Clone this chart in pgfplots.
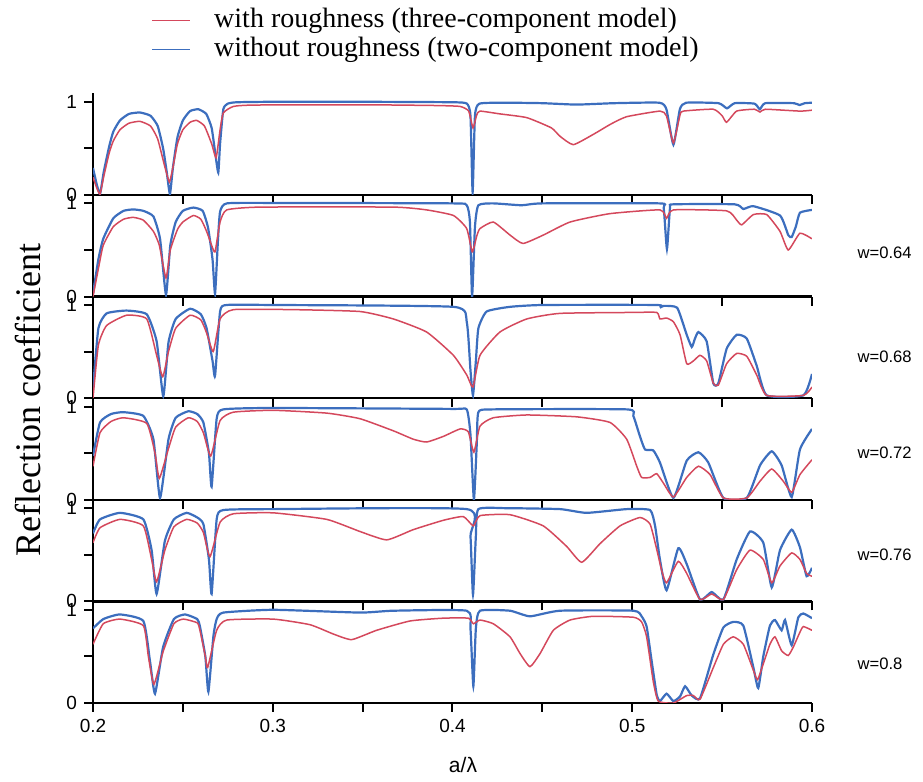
\documentclass[border=0pt]{standalone}
\usepackage{fontspec}
\setmainfont{Liberation Serif}
\setsansfont{Liberation Sans}
\usepackage{pgfplots}
\pgfplotsset{compat=1.18}
\definecolor{cblue}{RGB}{60,110,190}
\definecolor{cred}{RGB}{212,72,92}
\tikzset{wlab/.style={anchor=west, inner sep=0pt, font=\fontsize{8.3}{10}\selectfont\sffamily}}
\pgfplotsset{
 panel/.style={
  width=359.5pt, height=50.8pt, scale only axis,
  xmin=0.2, xmax=0.6, ymin=0, ymax=1.09,
  axis lines*=left, axis line style={line width=1.2pt, black},
  tick align=outside, major tick length=4.5pt, minor tick length=4.5pt,
  xtick={0.2,0.3,0.4,0.5,0.6}, minor xtick={0.25,0.35,0.45,0.55},
  xticklabels={}, ytick={0,0.5,1}, yticklabels={0,,1},
  tick style={line width=1pt, black},
  tick label style={font=\fontsize{9.5}{11}\selectfont\sffamily},
  clip mode=individual,
  anchor=south west,
 },
 bl/.style={cblue, line width=1.1pt, smooth, tension=0.3},
 rd/.style={cred, line width=0.75pt, smooth, tension=0.3},
}
\begin{document}
\begin{tikzpicture}
\useasboundingbox (0,0) rectangle (461.5pt,391pt);
% ---------- panel 1
\begin{axis}[panel, at={(46.5pt,293.5pt)},
  legend style={at={(axis description cs:0.0807,1.85)}, anchor=north west,
    draw=none, fill=none, inner sep=0pt, row sep=1.5pt,
    nodes={text height=10pt, text depth=3pt, inner sep=0pt},
    font=\fontsize{14}{16}\selectfont,
    /tikz/every odd column/.append style={column sep=11.5pt}},
  legend cell align=left,
  legend image code/.code={\draw[#1] (0pt,0pt) -- (19pt,0pt);}]
\addlegendimage{cred, line width=0.6pt}
\addlegendentry{with roughness (three-component model)}
\addlegendimage{cblue, line width=0.9pt}
\addlegendentry{without roughness (two-component model)}
\addplot[bl, forget plot] coordinates {(0.200,0.29)(0.2020,0.12)(0.2039,0.01)(0.2060,0.25)(0.2090,0.52)(0.2113,0.68)(0.2150,0.80)(0.2200,0.87)(0.2261,0.885)(0.2320,0.85)(0.2360,0.74)(0.2390,0.50)(0.2410,0.25)(0.2428,0.01)(0.2445,0.30)(0.2470,0.62)(0.2500,0.80)(0.2540,0.90)(0.2586,0.92)(0.2630,0.87)(0.2660,0.72)(0.2680,0.45)(0.2697,0.24)(0.2707,0.55)(0.2725,0.92)(0.2750,0.98)(0.2800,0.995)(0.3000,1.0)(0.3500,1.0)(0.4000,0.995)(0.4080,0.98)(0.4100,0.85)(0.4112,0.03)(0.4125,0.85)(0.4150,0.98)(0.4300,0.99)(0.4500,0.985)(0.4690,0.97)(0.4900,0.985)(0.5150,0.99)(0.5190,0.92)(0.5229,0.54)(0.5265,0.92)(0.5300,0.99)(0.5480,0.985)(0.5527,0.93)(0.5570,0.985)(0.5680,0.98)(0.5710,0.92)(0.5740,0.985)(0.5900,0.985)(0.5930,0.965)(0.5960,0.985)(0.600,0.99)};
\addplot[rd, forget plot] coordinates {(0.200,0.19)(0.2020,0.08)(0.2039,0.01)(0.2060,0.2)(0.2090,0.45)(0.2113,0.58)(0.2150,0.70)(0.2200,0.77)(0.2261,0.79)(0.2320,0.74)(0.2360,0.60)(0.2400,0.30)(0.2425,0.14)(0.2445,0.30)(0.2470,0.55)(0.2500,0.70)(0.2540,0.78)(0.2577,0.80)(0.2620,0.74)(0.2660,0.55)(0.2685,0.40)(0.2707,0.70)(0.2725,0.88)(0.2781,0.95)(0.2900,0.965)(0.3500,0.968)(0.3900,0.96)(0.4042,0.95)(0.4090,0.90)(0.4114,0.72)(0.4135,0.86)(0.4153,0.90)(0.4264,0.87)(0.4413,0.83)(0.4550,0.72)(0.4598,0.63)(0.4672,0.54)(0.4783,0.65)(0.4880,0.76)(0.4969,0.84)(0.5154,0.90)(0.5190,0.85)(0.5229,0.56)(0.5266,0.86)(0.5284,0.90)(0.5451,0.92)(0.5500,0.85)(0.5525,0.78)(0.5581,0.90)(0.5680,0.92)(0.5711,0.89)(0.5740,0.92)(0.5933,0.90)(0.600,0.91)};
\end{axis}
% ---------- panel 2
\begin{axis}[panel, at={(46.5pt,242.7pt)}]
\addplot[bl] coordinates {(0.200,0.03)(0.2030,0.40)(0.2057,0.62)(0.2113,0.84)(0.2170,0.92)(0.2224,0.935)(0.2280,0.92)(0.2336,0.86)(0.2373,0.62)(0.2406,0.02)(0.2430,0.55)(0.2460,0.80)(0.2500,0.92)(0.2558,0.955)(0.2610,0.92)(0.2640,0.74)(0.2665,0.40)(0.2679,0.03)(0.2695,0.60)(0.2707,0.91)(0.2744,1.0)(0.3000,1.005)(0.4000,1.0)(0.4079,0.98)(0.4097,0.80)(0.4109,0.0)(0.4125,0.75)(0.4144,0.98)(0.4227,1.0)(0.4385,0.98)(0.4500,1.0)(0.5150,1.0)(0.5175,0.95)(0.5193,0.51)(0.5210,0.95)(0.5229,0.99)(0.5570,0.99)(0.5618,0.94)(0.5674,0.97)(0.5822,0.87)(0.5868,0.66)(0.5887,0.64)(0.5910,0.75)(0.5933,0.90)(0.600,0.93)};
\addplot[rd] coordinates {(0.200,0.0)(0.2030,0.30)(0.2057,0.55)(0.2113,0.75)(0.2170,0.83)(0.2224,0.85)(0.2280,0.82)(0.2336,0.70)(0.2369,0.55)(0.2406,0.20)(0.2430,0.50)(0.2470,0.72)(0.2500,0.80)(0.2558,0.87)(0.2600,0.83)(0.2632,0.70)(0.2660,0.55)(0.2679,0.48)(0.2707,0.80)(0.2744,0.93)(0.2929,0.96)(0.3671,0.96)(0.3856,0.93)(0.4005,0.87)(0.4079,0.73)(0.4110,0.48)(0.4135,0.65)(0.4153,0.73)(0.4227,0.80)(0.4320,0.66)(0.4392,0.57)(0.4505,0.66)(0.4654,0.80)(0.4876,0.89)(0.5154,0.93)(0.5191,0.84)(0.5229,0.93)(0.5525,0.92)(0.5581,0.82)(0.5609,0.77)(0.5674,0.88)(0.5748,0.88)(0.5822,0.70)(0.5868,0.50)(0.5933,0.68)(0.600,0.62)};
\node[wlab] at (axis description cs:1.063,0.43) {w=0.64};
\end{axis}
% ---------- panel 3
\begin{axis}[panel, at={(46.5pt,191.9pt)}]
\addplot[bl] coordinates {(0.200,0.10)(0.2030,0.75)(0.2076,0.91)(0.2187,0.94)(0.2299,0.90)(0.2354,0.61)(0.2391,0.02)(0.2420,0.60)(0.2460,0.85)(0.2540,0.96)(0.2600,0.90)(0.2632,0.75)(0.2665,0.40)(0.2679,0.24)(0.2707,0.93)(0.2744,1.0)(0.3000,1.0)(0.4005,0.98)(0.4079,0.82)(0.4100,0.30)(0.4114,0.03)(0.4130,0.40)(0.4144,0.75)(0.4190,0.93)(0.4320,0.98)(0.4505,1.0)(0.5136,1.0)(0.5154,0.97)(0.5173,0.99)(0.5250,0.97)(0.5303,0.68)(0.5331,0.55)(0.5349,0.64)(0.5368,0.71)(0.5414,0.61)(0.5451,0.16)(0.5479,0.16)(0.5525,0.53)(0.5581,0.68)(0.5637,0.64)(0.5692,0.35)(0.5748,0.03)(0.5952,0.03)(0.600,0.26)};
\addplot[rd] coordinates {(0.200,0.0)(0.2030,0.57)(0.2076,0.78)(0.2187,0.89)(0.2299,0.85)(0.2354,0.46)(0.2388,0.23)(0.2420,0.50)(0.2460,0.75)(0.2540,0.89)(0.2600,0.84)(0.2632,0.70)(0.2669,0.50)(0.2707,0.85)(0.2781,0.95)(0.3115,0.95)(0.3485,0.93)(0.3671,0.85)(0.3856,0.71)(0.4005,0.46)(0.4079,0.25)(0.4114,0.12)(0.4153,0.46)(0.4264,0.71)(0.4413,0.85)(0.4598,0.91)(0.5000,0.92)(0.5136,0.92)(0.5154,0.85)(0.5191,0.86)(0.5229,0.82)(0.5266,0.68)(0.5303,0.37)(0.5340,0.40)(0.5377,0.46)(0.5414,0.40)(0.5451,0.16)(0.5479,0.14)(0.5525,0.37)(0.5581,0.48)(0.5637,0.45)(0.5692,0.25)(0.5748,0.03)(0.5952,0.03)(0.600,0.12)};
\node[wlab] at (axis description cs:1.063,0.41) {w=0.68};
\end{axis}
% ---------- panel 4
\begin{axis}[panel, at={(46.5pt,141.1pt)}]
\addplot[bl] coordinates {(0.200,0.47)(0.2039,0.83)(0.2100,0.92)(0.2169,0.94)(0.2280,0.90)(0.2336,0.65)(0.2373,0.02)(0.2420,0.65)(0.2460,0.88)(0.2530,0.95)(0.2580,0.92)(0.2614,0.83)(0.2645,0.50)(0.2660,0.14)(0.2688,0.87)(0.2725,0.97)(0.3000,0.985)(0.4000,0.975)(0.4079,0.97)(0.4100,0.70)(0.4119,0.0)(0.4135,0.60)(0.4144,0.94)(0.4227,0.97)(0.4969,0.97)(0.5006,0.90)(0.5043,0.68)(0.5071,0.54)(0.5117,0.53)(0.5154,0.40)(0.5229,0.02)(0.5303,0.42)(0.5368,0.51)(0.5423,0.40)(0.5507,0.02)(0.5637,0.02)(0.5711,0.37)(0.5776,0.52)(0.5831,0.37)(0.5887,0.03)(0.5933,0.54)(0.600,0.76)};
\addplot[rd] coordinates {(0.200,0.36)(0.2039,0.72)(0.2100,0.84)(0.2169,0.88)(0.2299,0.82)(0.2345,0.50)(0.2369,0.23)(0.2420,0.55)(0.2460,0.78)(0.2530,0.88)(0.2580,0.84)(0.2614,0.72)(0.2655,0.47)(0.2707,0.85)(0.2781,0.94)(0.3003,0.96)(0.3300,0.93)(0.3485,0.87)(0.3671,0.74)(0.3782,0.65)(0.3856,0.62)(0.3949,0.68)(0.4042,0.76)(0.4088,0.73)(0.4119,0.51)(0.4153,0.79)(0.4227,0.88)(0.4413,0.91)(0.4691,0.89)(0.4876,0.83)(0.4969,0.65)(0.5025,0.36)(0.5052,0.24)(0.5099,0.24)(0.5136,0.28)(0.5173,0.18)(0.5229,0.03)(0.5303,0.24)(0.5368,0.36)(0.5433,0.27)(0.5507,0.02)(0.5637,0.02)(0.5711,0.20)(0.5776,0.33)(0.5840,0.20)(0.5887,0.08)(0.5933,0.27)(0.600,0.43)};
\node[wlab] at (axis description cs:1.063,0.46) {w=0.72};
\end{axis}
% ---------- panel 5
\begin{axis}[panel, at={(46.5pt,90.3pt)}]
\addplot[bl] coordinates {(0.200,0.73)(0.2039,0.88)(0.2150,0.95)(0.2280,0.88)(0.2326,0.55)(0.2354,0.08)(0.2400,0.65)(0.2450,0.88)(0.2521,0.95)(0.2580,0.90)(0.2614,0.83)(0.2645,0.45)(0.2660,0.08)(0.2688,0.88)(0.2725,0.98)(0.3000,0.99)(0.4079,0.99)(0.4100,0.70)(0.4114,0.07)(0.4130,0.70)(0.4144,0.99)(0.4300,1.0)(0.4598,0.99)(0.4746,0.95)(0.4969,0.99)(0.5099,0.98)(0.5127,0.81)(0.5154,0.45)(0.5191,0.12)(0.5256,0.57)(0.5303,0.40)(0.5377,0.02)(0.5442,0.10)(0.5507,0.02)(0.5581,0.45)(0.5655,0.75)(0.5729,0.63)(0.5776,0.15)(0.5822,0.55)(0.5887,0.77)(0.5933,0.58)(0.5970,0.27)(0.600,0.36)};
\addplot[rd] coordinates {(0.200,0.63)(0.2039,0.79)(0.2150,0.88)(0.2280,0.81)(0.2326,0.45)(0.2354,0.21)(0.2400,0.55)(0.2450,0.80)(0.2521,0.88)(0.2580,0.84)(0.2614,0.74)(0.2651,0.48)(0.2707,0.85)(0.2781,0.94)(0.3003,0.95)(0.3300,0.88)(0.3485,0.75)(0.3634,0.66)(0.3782,0.77)(0.3949,0.87)(0.4060,0.91)(0.4116,0.81)(0.4153,0.92)(0.4320,0.93)(0.4505,0.81)(0.4635,0.59)(0.4719,0.42)(0.4821,0.62)(0.4932,0.81)(0.5043,0.90)(0.5099,0.83)(0.5136,0.56)(0.5164,0.33)(0.5191,0.20)(0.5256,0.43)(0.5303,0.30)(0.5377,0.02)(0.5442,0.08)(0.5507,0.02)(0.5581,0.34)(0.5655,0.55)(0.5729,0.45)(0.5776,0.20)(0.5822,0.38)(0.5887,0.52)(0.5933,0.45)(0.5970,0.30)(0.600,0.27)};
\node[wlab] at (axis description cs:1.063,0.46) {w=0.76};
\end{axis}
% ---------- panel 6
\begin{axis}[panel, at={(46.5pt,39.5pt)}, xticklabels={0.2,0.3,0.4,0.5,0.6}]
\addplot[bl] coordinates {(0.200,0.80)(0.2057,0.90)(0.2150,0.95)(0.2280,0.88)(0.2317,0.45)(0.2345,0.10)(0.2390,0.60)(0.2450,0.90)(0.2512,0.95)(0.2580,0.90)(0.2595,0.82)(0.2625,0.50)(0.2642,0.12)(0.2670,0.72)(0.2688,0.90)(0.2725,0.97)(0.3003,1.0)(0.3485,0.97)(0.3671,0.99)(0.4079,0.99)(0.4100,0.80)(0.4116,0.18)(0.4130,0.80)(0.4153,0.99)(0.4320,0.99)(0.4431,0.93)(0.4598,0.99)(0.5006,0.99)(0.5052,0.93)(0.5080,0.82)(0.5108,0.45)(0.5136,0.09)(0.5154,0.02)(0.5191,0.10)(0.5229,0.02)(0.5266,0.07)(0.5294,0.18)(0.5331,0.08)(0.5377,0.05)(0.5451,0.52)(0.5507,0.81)(0.5562,0.87)(0.5618,0.83)(0.5674,0.38)(0.5701,0.16)(0.5729,0.50)(0.5766,0.83)(0.5794,0.89)(0.5831,0.78)(0.5850,0.89)(0.5887,0.62)(0.5924,0.92)(0.5952,0.96)(0.600,0.91)};
\addplot[rd] coordinates {(0.200,0.63)(0.2057,0.85)(0.2150,0.90)(0.2280,0.83)(0.2308,0.50)(0.2339,0.20)(0.2390,0.55)(0.2450,0.85)(0.2503,0.90)(0.2580,0.86)(0.2595,0.78)(0.2625,0.50)(0.2638,0.38)(0.2688,0.78)(0.2744,0.89)(0.3003,0.90)(0.3207,0.84)(0.3337,0.74)(0.3439,0.68)(0.3578,0.78)(0.3764,0.88)(0.3949,0.91)(0.4088,0.91)(0.4116,0.85)(0.4153,0.89)(0.4227,0.85)(0.4320,0.71)(0.4376,0.53)(0.4431,0.39)(0.4487,0.53)(0.4561,0.78)(0.4654,0.89)(0.4783,0.93)(0.5006,0.92)(0.5052,0.87)(0.5080,0.71)(0.5117,0.23)(0.5145,0.02)(0.5229,0.0)(0.5303,0.08)(0.5340,0.08)(0.5377,0.04)(0.5451,0.38)(0.5507,0.63)(0.5562,0.71)(0.5618,0.63)(0.5674,0.35)(0.5697,0.25)(0.5729,0.42)(0.5766,0.63)(0.5794,0.71)(0.5831,0.56)(0.5868,0.51)(0.5896,0.60)(0.5933,0.76)(0.5952,0.82)(0.600,0.78)};
\node[wlab] at (axis description cs:1.063,0.39) {w=0.8};
\end{axis}
\node[rotate=90, font=\fontsize{18}{20}\selectfont] at (14pt,191pt) {Reflection coefficient};
\node[font=\fontsize{10.5}{12}\selectfont\sffamily] at (231.5pt,8.5pt) {a/λ};
\end{tikzpicture}
\end{document}
